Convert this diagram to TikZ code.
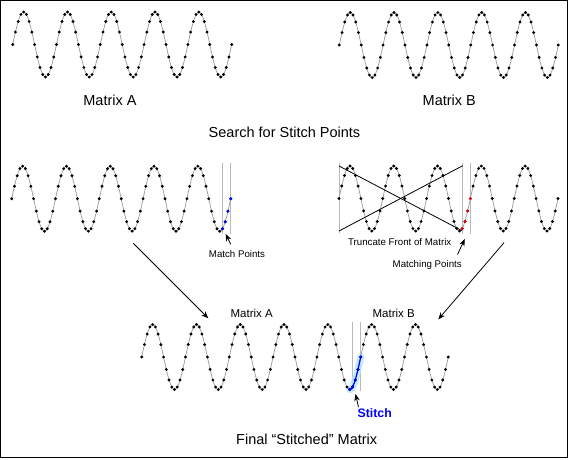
\documentclass[tikz,border=0pt]{standalone}
\usepackage{fontspec}
\setmainfont{Liberation Sans}
\usetikzlibrary{arrows.meta}

\newcommand{\period}{43.8}
\newcommand{\amp}{32.5}

% one sampled sine: #1 start x, #2 centre y, #3 periods
\newcommand{\sampledwave}[3]{%
  \pgfmathsetmacro{\dend}{#3*360}%
  \pgfmathtruncatemacro{\nsamp}{#3*48+1}%
  \pgfmathtruncatemacro{\npts}{#3*16}%
  \draw[curve] plot[domain=0:\dend, samples=\nsamp] ({#1+\x/360*\period},{#2-\amp*sin(\x)});
  \foreach \k in {0,...,\npts}
    \fill ({#1+\k*\period/16},{#2-\amp*sin(\k*22.5)}) circle (1.6pt);
}
% coloured samples #4..#5 of the same wave, colour #6
\newcommand{\markpts}[6]{%
  \foreach \k in {#4,...,#5}
    \fill[#6] ({#1+\k*\period/16},{#2-\amp*sin(\k*22.5)}) circle (1.6pt);
}

\tikzset{
  curve/.style={gray!80, line width=0.7pt},
  guide/.style={gray!55, line width=0.8pt},
  pointer/.style={-{Stealth[length=7pt,width=5.5pt]}, line width=0.8pt},
  title/.style={anchor=base, font=\fontsize{14.5}{16}\selectfont},
  caption/.style={anchor=base, font=\fontsize{11.5}{13}\selectfont},
  note/.style={anchor=base, font=\fontsize{9.7}{11}\selectfont}
}

\begin{document}
\begin{tikzpicture}[x=1pt,y=-1pt]
  \useasboundingbox (0,0) rectangle (570,459);
  \draw[line width=1.4pt] (0.7,0.7) rectangle (567.3,457.3);

  % first row
  \sampledwave{12.7}{44.5}{5}
  \sampledwave{339.3}{45}{5}
  \node[title] (matA) at (110,105.5) {Matrix A};
  \node[title] (matB) at (449.3,105.5) {Matrix B};
  \node[title] (search) at (284.5,137.7) {Search for Stitch Points};

  % second row, left
  \draw[guide] (222,162.5) -- (222,233.5);
  \draw[guide] (230.3,162.5) -- (230.3,233.5);
  \sampledwave{11.7}{198.7}{5}
  \markpts{11.7}{198.7}{5}{77}{80}{blue}
  \node[note] (match) at (237,257.3) {Match Points};
  \coordinate (matchtail) at (230.7,244.3);
  \coordinate (matchtip) at (225.7,234);
  \draw[pointer] (matchtail) -- (matchtip);

  % second row, right
  \draw[guide] (339,163) -- (339,232.5);
  \draw[guide] (462.7,163) -- (462.7,233.5);
  \draw[guide] (470.7,163) -- (470.7,233.5);
  \sampledwave{339}{198.5}{5}
  \markpts{339}{198.5}{5}{45}{48}{red}
  \draw[line width=0.8pt] (339,166) -- (461.7,230.5);
  \draw[line width=0.8pt] (339,231) -- (462.7,165.7);
  \node[note] (trunc) at (399.7,245) {Truncate Front of Matrix};
  \node[note] (matching) at (427.2,267.7) {Matching Points};
  \coordinate (matchingtail) at (457.5,254.5);
  \coordinate (matchingtip) at (464.8,239);
  \draw[pointer] (matchingtail) -- (matchingtip);

  % joining arrows
  \coordinate (leftout) at (133.3,243.3);
  \coordinate (leftin) at (208.3,318.3);
  \coordinate (rightout) at (504,242.7);
  \coordinate (rightin) at (438.3,319.3);
  \draw[pointer] (leftout) -- (leftin);
  \draw[pointer] (rightout) -- (rightin);

  % final row
  \draw[guide] (352.3,321.5) -- (352.3,390.5);
  \draw[guide] (360,321.5) -- (360,390.5);
  \draw[cyan!30, line width=7pt, line cap=round, opacity=0.8]
    plot[domain=1710:1800, samples=12] ({141.7+\x/360*\period},{357-\amp*sin(\x)});
  \sampledwave{141.7}{357}{7}
  \draw[blue, line width=1.2pt]
    plot[domain=1710:1800, samples=12] ({141.7+\x/360*\period},{357-\amp*sin(\x)});
  \markpts{141.7}{357}{7}{76}{80}{blue}
  \node[caption] (finA) at (251.7,317.3) {Matrix A};
  \node[caption] (finB) at (393.7,317.3) {Matrix B};
  \node[anchor=base, text=blue, font=\bfseries\fontsize{12.3}{14}\selectfont] (stitch) at (374.7,417.7) {Stitch};
  \coordinate (stitchtail) at (358.5,407);
  \coordinate (stitchtip) at (355.5,394);
  \draw[pointer] (stitchtail) -- (stitchtip);
  \node[title] (final) at (306.7,444) {Final “Stitched” Matrix};
\end{tikzpicture}
\end{document}
